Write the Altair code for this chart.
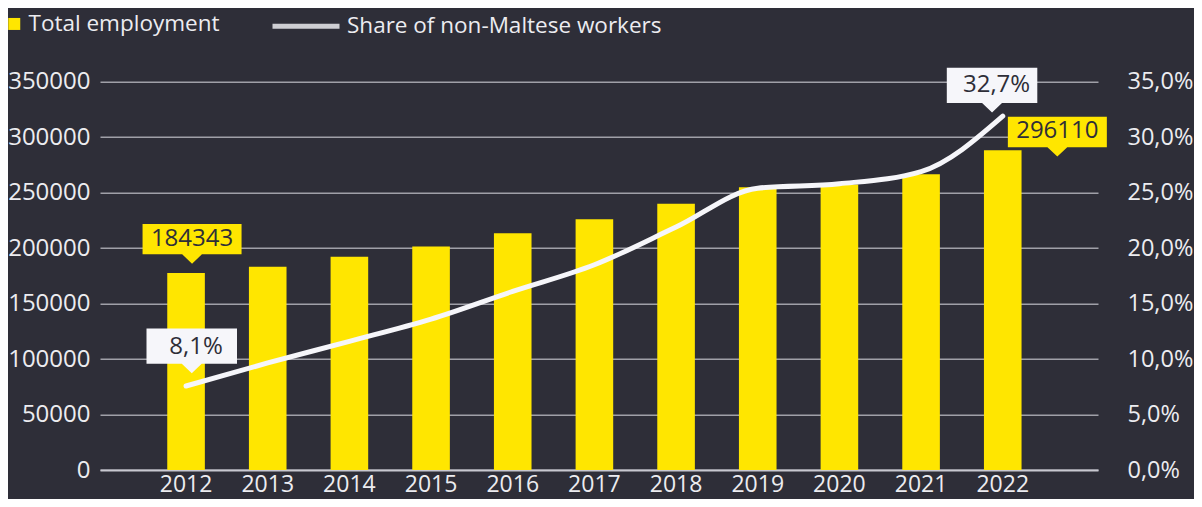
import altair as alt
import pandas as pd

# ---- data ----
years = ["2012", "2013", "2014", "2015", "2016", "2017", "2018", "2019", "2020", "2021", "2022"]
employment = [177600, 183300, 192300, 201400, 213400, 226000, 240100, 254900, 257300, 266600, 288300]
share_pct = [7.57, 9.65, 11.6, 13.6, 16.1, 18.5, 21.9, 25.4, 25.8, 26.9, 31.9]
employment_labels = ["184343", "", "", "", "", "", "", "", "", "", "296110"]
share_labels = ["8,1%", "", "", "", "", "", "", "", "", "", "32,7%"]
series_bar = "Total employment"
series_line = "Share of non-Maltese workers"

df = pd.DataFrame({
    "year": years,
    "emp": employment,
    "share": share_pct,
    "emp_label": employment_labels,
    "share_label": share_labels,
    "s_bar": series_bar,
    "s_line": series_line,
})

BG = "#2e2e38"
YELLOW = "#ffe600"
WHITE = "#f6f6fa"
TXT = "#ececf0"
FONT = "Open Sans"

base = alt.Chart(df)

x_enc = alt.X(
    "year:N",
    sort=years,
    title=None,
    scale=alt.Scale(paddingInner=0.54, paddingOuter=0.88, align=0.468),
    axis=alt.Axis(
        title=None, labelAngle=0, labelFont=FONT, labelFontSize=23, labelColor=TXT,
        labelPadding=3, ticks=False, domain=True, domainColor="#c8c8d0", domainWidth=2,
        grid=False,
    ),
)

y_emp = alt.Y(
    "emp:Q",
    title=None,
    scale=alt.Scale(domain=[0, 350000], nice=False),
    axis=alt.Axis(
        title=None, orient="left", values=[0, 50000, 100000, 150000, 200000, 250000, 300000, 350000],
        format="d", labelFont=FONT, labelFontSize=24, labelColor=TXT, labelPadding=10,
        ticks=False, domain=False, grid=True, gridColor="#a0a0a8", gridWidth=1.4,
    ),
)

y_share = alt.Y(
    "share:Q",
    title=None,
    scale=alt.Scale(domain=[0, 35], nice=False),
    axis=alt.Axis(
        title=None, orient="right", values=[0, 5, 10, 15, 20, 25, 30, 35],
        labelExpr="replace(format(datum.value, '.1f'), '.', ',') + '%'",
        labelFont=FONT, labelFontSize=23.5, labelColor=TXT, labelPadding=29,
        ticks=False, domain=False, grid=False,
    ),
)

bars = base.mark_bar(size=37.6).encode(
    x=x_enc,
    y=y_emp,
    fill=alt.Fill(
        "s_bar:N",
        scale=alt.Scale(domain=[series_bar], range=[YELLOW]),
        legend=alt.Legend(
            title=None, orient="none", legendX=-97, legendY=-69, symbolType="square",
            symbolSize=144, symbolStrokeWidth=0, symbolOpacity=1, labelFont=FONT,
            labelFontSize=22.5, labelColor=TXT, labelOffset=3, labelLimit=400, padding=0,
        ),
    ),
)

# label box shapes (tip of pointer at the origin)
yellow_box = "M0,0 L-0.2,-0.19 L-1,-0.19 L-1,-0.802 L1,-0.802 L1,-0.19 L0.2,-0.19 Z"
white_box = "M0,0 L-0.22,-0.21 L-1,-0.21 L-1,-0.988 L1,-0.988 L1,-0.21 L0.22,-0.21 Z"


def emp_label(year, dx, dy, tdy):
    d = base.transform_filter(alt.datum.year == year)
    box = d.mark_point(shape=yellow_box, size=9801, filled=True, fill=YELLOW, opacity=1,
                       strokeWidth=0, xOffset=dx, yOffset=dy).encode(x=x_enc, y=y_emp)
    txt = d.mark_text(font=FONT, fontSize=24, color=BG, align="center", baseline="middle",
                      dx=dx, dy=tdy).encode(x=x_enc, y=y_emp, text="emp_label:N")
    return [box, txt]


def share_label(year, dx, dy, tdx, tdy):
    d = base.transform_filter(alt.datum.year == year)
    box = d.mark_point(shape=white_box, size=8190, filled=True, fill=WHITE, opacity=1,
                       strokeWidth=0, xOffset=dx, yOffset=dy).encode(x=x_enc, y=y_share)
    txt = d.mark_text(font=FONT, fontSize=24, color=BG, align="center", baseline="middle",
                      dx=tdx, dy=tdy).encode(x=x_enc, y=y_share, text="share_label:N")
    return [box, txt]


left_layer = alt.layer(
    bars,
    *emp_label("2012", 6, -9.3, -33.9),
    *emp_label("2022", 54.6, 6.4, -19),
)

line = base.mark_line(strokeWidth=5, interpolate="monotone", strokeCap="round").encode(
    x=x_enc,
    y=y_share,
    stroke=alt.Stroke(
        "s_line:N",
        scale=alt.Scale(domain=[series_line], range=[WHITE]),
        legend=alt.Legend(
            title=None, orient="none", legendX=170, legendY=-91.5, symbolType="stroke",
            symbolSize=4489, symbolStrokeWidth=5, symbolOpacity=0.8, labelFont=FONT,
            labelFontSize=22.5, labelColor=TXT, labelOffset=5, labelLimit=500, padding=0,
        ),
    ),
)

right_layer = alt.layer(
    line,
    *share_label("2012", 5.7, -12.7, 10, -39.5),
    *share_label("2022", -10.7, -3.7, -6.2, -31),
)

chart = (
    alt.layer(left_layer, right_layer)
    .resolve_scale(y="independent", fill="independent", stroke="independent")
    .properties(
        width=998,
        height=388.3,
        autosize=alt.AutoSizeParams(type="none"),
        padding={"left": 92, "top": 73.7, "right": 96, "bottom": 29},
        background=BG,
    )
    .configure_view(stroke=None)
)

chart.save("out.html", embed_options={"renderer": "svg", "actions": False})
